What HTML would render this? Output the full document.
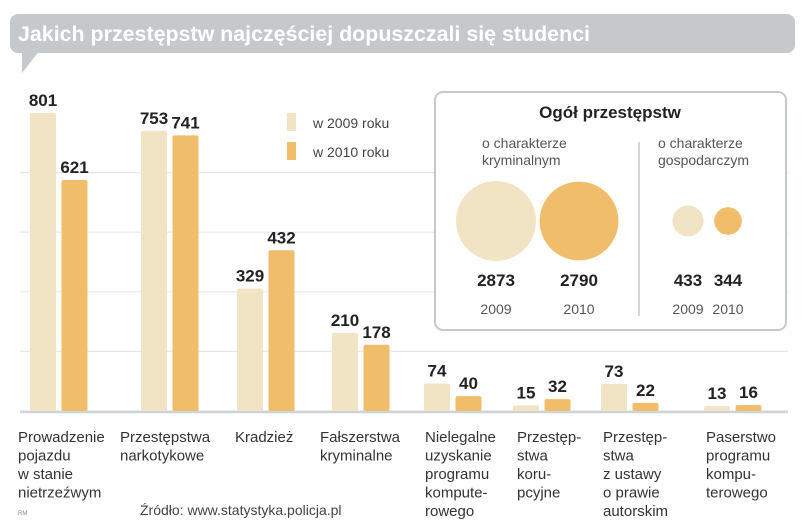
<!DOCTYPE html>
<html><head><meta charset="utf-8"><style>
body{margin:0;width:805px;height:528px;background:#fff;overflow:hidden;font-family:"Liberation Sans",sans-serif}
svg{display:block}
</style></head><body>
<svg id="c" width="805" height="528" xmlns="http://www.w3.org/2000/svg">
<g>
<rect x="10" y="14" width="785" height="39" rx="8" fill="#c5c9cc"/>
<path d="M22 50 L22 73 L40 50 Z" fill="#c5c9cc"/>
<text x="18" y="41" font-size="21" font-weight="bold" fill="#fff" textLength="572" lengthAdjust="spacingAndGlyphs">Jakich przestępstw najczęściej dopuszczali się studenci</text>
</g>
<g id="grid"></g>
<g id="bars"></g>
<g id="cats"></g>
<g>
<rect x="287" y="113" width="9" height="18" fill="#f1e4c4"/>
<text x="313" y="128" font-size="14" fill="#444">w 2009 roku</text>
<rect x="287" y="142" width="9" height="18" fill="#f0be6b"/>
<text x="313" y="157" font-size="14" fill="#444">w 2010 roku</text>
</g>
<g>
<rect x="435" y="92" width="351" height="238" rx="8" fill="#fff" stroke="#c5c9cc" stroke-width="2"/>
<text x="610" y="118" font-size="17" font-weight="bold" text-anchor="middle" fill="#222">Ogół przestępstw</text>
<text x="482" y="148" font-size="14" fill="#555"><tspan x="482">o charakterze</tspan><tspan x="482" dy="17">kryminalnym</tspan></text>
<text x="658" y="148" font-size="14" fill="#555"><tspan x="658">o charakterze</tspan><tspan x="658" dy="17">gospodarczym</tspan></text>
<line x1="639" y1="142" x2="639" y2="316" stroke="#c5c9cc" stroke-width="1.5"/>
<g id="bubbles"></g>
</g>
<text x="140" y="515" font-size="14" fill="#444">Źródło: www.statystyka.policja.pl</text>
<text x="18" y="515" font-size="6" fill="#888">RM</text>
</svg>
<script>
const categories=[["Prowadzenie","pojazdu","w stanie","nietrzeźwym"],["Przestępstwa","narkotykowe"],["Kradzież"],["Fałszerstwa","kryminalne"],["Nielegalne","uzyskanie","programu","kompute-","rowego"],["Przestęp-","stwa","koru-","pcyjne"],["Przestęp-","stwa","z ustawy","o prawie","autorskim"],["Paserstwo","programu","kompu-","terowego"]];
const values2009=[801,753,329,210,74,15,73,13];
const values2010=[621,741,432,178,40,32,22,16];
const totalsLabels=["2873","2790","433","344"];
const totals=[2873,2790,433,344];
const totalsYears=["2009","2010","2009","2010"];
const NS="http://www.w3.org/2000/svg";
const base=411, top0=113, maxV=801;
function y(v){return base-(v/maxV)*(base-top0);}
const groupLeft=[30,141,237,332,424,513,601,704];
function gx(i){return groupLeft[i];}
function mk(t,a,p){const e=document.createElementNS(NS,t);for(const k in a)e.setAttribute(k,a[k]);p.appendChild(e);return e;}
const grid=document.getElementById('grid');
for(let k=0;k<5;k++){const l=mk('line',{x1:20,x2:788,y1:y(k*maxV/5),y2:y(k*maxV/5),stroke:'#e6e8ea','stroke-width':1.2},grid);

}
const bl=mk('line',{x1:20,x2:788,y1:base+1,y2:base+1,stroke:'#cfd3d6','stroke-width':2.5},grid);


const bars=document.getElementById('bars');
const cats=document.getElementById('cats');
const catX=[18,120,235,320,425,517,603,706];
categories.forEach((c,i)=>{
 const x=gx(i);
 [[values2009[i],'#f1e4c4',x],[values2010[i],'#f0be6b',x+31.5]].forEach((d,j)=>{
  const r=mk('rect',{x:d[2],y:y(d[0]),width:26,height:base-y(d[0]),rx:2,fill:d[1]},bars);
  
  
  const t=mk('text',{x:d[2]+13,y:y(d[0])-7,'font-size':17,'font-weight':'bold','text-anchor':'middle',fill:'#222'},bars);
  t.textContent=d[0];
  
  
 });
 const t=mk('text',{'font-size':15,fill:'#333'},cats);
 
 
 c.forEach((s,k)=>{const ts=mk('tspan',{x:catX[i],y:442+k*18.5},t);ts.textContent=s;});
});
const bub=document.getElementById('bubbles');
const bx=[496,579,688,728];
const cols=['#f1e4c4','#f0be6b','#f1e4c4','#f0be6b'];
totals.forEach((v,i)=>{
 const r=40*Math.sqrt(v/2873);
 const c=mk('circle',{cx:bx[i],cy:221,r:r,fill:cols[i]},bub);
 
 
 const t=mk('text',{x:bx[i],y:286,'font-size':17,'font-weight':'bold','text-anchor':'middle',fill:'#222'},bub);
 t.textContent=totalsLabels[i];
 
 
 const t2=mk('text',{x:bx[i],y:314,'font-size':14,'text-anchor':'middle',fill:'#555'},bub);
 t2.textContent=totalsYears[i];
 
 
});
</script>
</body></html>
